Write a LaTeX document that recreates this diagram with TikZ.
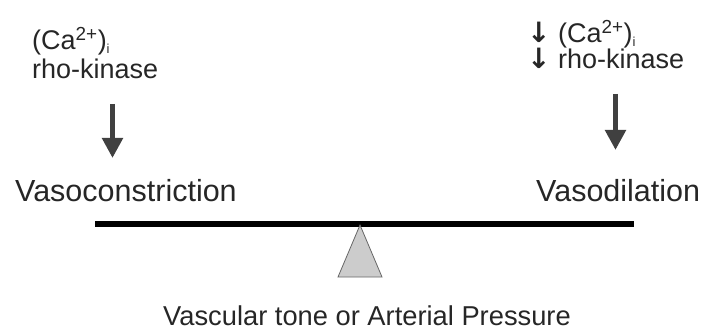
\documentclass[tikz,border=0pt]{standalone}
\usepackage{fontspec}
\setmainfont{Liberation Sans}
\newfontfamily\symfont{DejaVu Sans}
\usetikzlibrary{arrows.meta}
\newcommand{\caion}{(Ca\textsuperscript{2+})\raisebox{-0.12em}{\fontsize{13}{13}\selectfont i}}
\newcommand{\dnarr}{{\symfont\bfseries\fontsize{28}{30}\selectfont ↓}}
\tikzset{
  lbl/.style={inner sep=0pt, anchor=base west, text=black!85},
  upper/.style={lbl, font=\fontsize{27}{30}\selectfont},
  outcome/.style={lbl, font=\fontsize{30.5}{34}\selectfont},
  bigarrow/.style={draw=black!75, line width=5pt, -{Triangle[width=20pt,length=20pt]}, color=black!75},
  beam/.style={line width=6pt, black},
  fulcrum/.style={draw=black!60, fill=black!20, line width=0.8pt, line join=miter}
}
\begin{document}
\begin{tikzpicture}[x=1pt,y=-1pt]
\useasboundingbox (0,0) rectangle (704,331);
% left labels
\node[upper] (lca) at (32,50) {\caion};
\node[upper] (lrho) at (32,79) {rho-kinase};
% right labels
\node[upper] (rca) at (527,43) {\dnarr\ \caion};
\node[upper] (rrho) at (527,69) {\dnarr\ rho-kinase};
% arrows
\coordinate (la1) at (112.5,104);
\coordinate (la2) at (112.5,158);
\coordinate (ra1) at (615.5,94);
\coordinate (ra2) at (615.5,150);
\draw[bigarrow] (la1) -- (la2);
\draw[bigarrow] (ra1) -- (ra2);
% outcomes
\node[outcome] (vc) at (15,202) {Vasoconstriction};
\node[outcome] (vd) at (536,202) {Vasodilation};
% beam and fulcrum
\coordinate (b1) at (95,224);
\coordinate (b2) at (634,224);
\draw[beam] (b1) -- (b2);
\coordinate (apex) at (360,225);
\coordinate (bl) at (338,277);
\coordinate (br) at (382,277);
\draw[fulcrum] (apex) -- (br) -- (bl) -- cycle;
% bottom label
\node[inner sep=0pt, anchor=base, text=black!85, font=\fontsize{27.3}{30}\selectfont] (vt) at (367,325) {Vascular tone or Arterial Pressure};
\end{tikzpicture}
\end{document}
